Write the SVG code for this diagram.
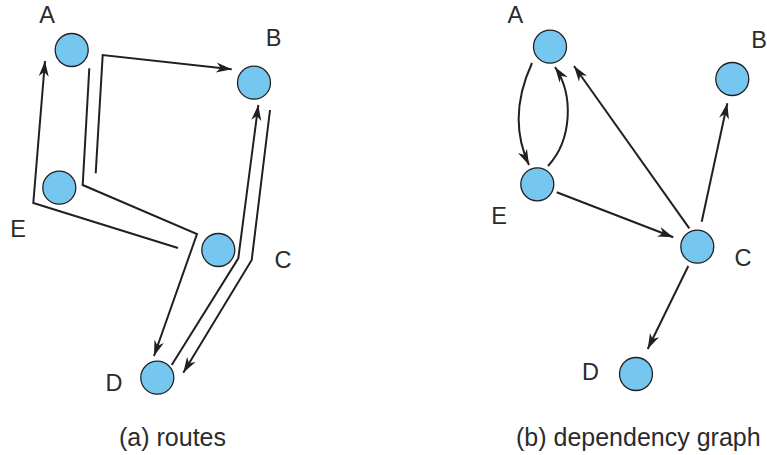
<svg xmlns="http://www.w3.org/2000/svg" width="767" height="455" viewBox="0 0 767 455">
<style>
.node{fill:#75c7ef;stroke:#231f20;stroke-width:1.3}
.lbl{font-family:"Liberation Sans",Arial,sans-serif;font-size:23.5px;fill:#2b2b2b;text-anchor:middle}
.cap{font-family:"Liberation Sans",Arial,sans-serif;font-size:25px;fill:#2b2b2b}
.edge{fill:none;stroke:#231f20;stroke-width:2;stroke-linejoin:miter}
.arr{marker-end:url(#ah)}
</style>
<defs>
<marker id="ah" markerUnits="userSpaceOnUse" markerWidth="17" markerHeight="11" refX="15.5" refY="5" orient="auto" overflow="visible">
<path d="M0,0 L15.5,5 L0,10 L4.5,5 z" fill="#231f20"/>
</marker>
</defs>
<rect width="767" height="455" fill="#ffffff"/>
<g id="connectors">
<polyline class="edge arr" points="178,248 33.3,203 45,61"/>
<polyline class="edge arr" points="89.3,68.3 82.7,185 197,234 154,356"/>
<polyline class="edge arr" points="95.7,173.3 102.7,55 231.7,69.3"/>
<polyline class="edge arr" points="171.7,365 238.3,258.3 258.3,105"/>
<polyline class="edge arr" points="270,110 251.7,260 183.3,372.7"/>
<path class="edge arr" d="M532,63 C515,100 515,135 529,165"/>
<path class="edge arr" d="M548,166 C572,140 574,95 555,67"/>
<line class="edge arr" x1="689.3" y1="228.3" x2="574" y2="66"/>
<line class="edge arr" x1="701.7" y1="221.7" x2="727.3" y2="103.3"/>
<line class="edge arr" x1="556.7" y1="192.3" x2="673.3" y2="237.3"/>
<line class="edge arr" x1="688.3" y1="266" x2="647.7" y2="349"/>
</g>
<g id="a-A"><circle class="node" cx="71.7" cy="50" r="16.5"/><text class="lbl" x="47" y="23.3">A</text></g>
<g id="a-B"><circle class="node" cx="254" cy="82.7" r="16.5"/><text class="lbl" x="273.7" y="45.7">B</text></g>
<g id="a-E"><circle class="node" cx="59.3" cy="187.7" r="16.5"/><text class="lbl" x="18" y="236.7">E</text></g>
<g id="a-C"><circle class="node" cx="218.3" cy="250" r="16.5"/><text class="lbl" x="283" y="268">C</text></g>
<g id="a-D"><circle class="node" cx="157.3" cy="377.7" r="16.5"/><text class="lbl" x="114" y="390.5">D</text></g>
<g id="b-A"><circle class="node" cx="550" cy="46.7" r="16.5"/><text class="lbl" x="515.3" y="23.3">A</text></g>
<g id="b-B"><circle class="node" cx="732.3" cy="79" r="16.5"/><text class="lbl" x="759" y="47.7">B</text></g>
<g id="b-E"><circle class="node" cx="537.3" cy="184.3" r="16.5"/><text class="lbl" x="499" y="224">E</text></g>
<g id="b-C"><circle class="node" cx="697.3" cy="246.7" r="16.5"/><text class="lbl" x="743" y="266">C</text></g>
<g id="b-D"><circle class="node" cx="636" cy="374" r="16.5"/><text class="lbl" x="590.5" y="380">D</text></g>
<g id="captions">
<text class="cap" x="119" y="446">(a) routes</text>
<text class="cap" x="516" y="446">(b) dependency graph</text>
</g>
</svg>
